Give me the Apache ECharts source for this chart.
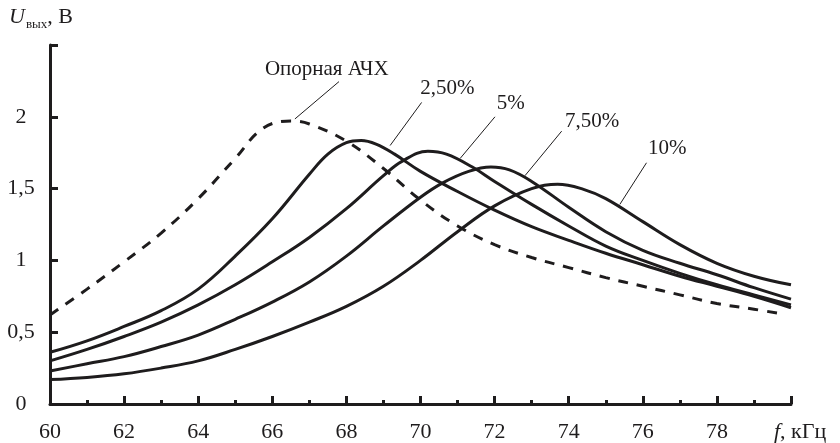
<!DOCTYPE html>
<html>
<head>
<meta charset="utf-8">
<script src="https://cdn.jsdelivr.net/npm/echarts@6/dist/echarts.min.js"></script>
<style>html,body{margin:0;padding:0;background:#fff}#c{width:840px;height:443px}</style>
</head>
<body>
<div id="c"></div>
<script>
// Data: [frequency kHz, U V]
var refCurve = [[60,0.62],[61,0.80],[62,0.99],[63,1.19],[64,1.43],[65,1.71],[65.75,1.92],[66.5,1.97],[67,1.95],[68,1.83],[69,1.64],[70,1.42],[71,1.24],[72,1.11],[73,1.02],[74,0.95],[75,0.88],[76,0.82],[77,0.76],[78,0.70],[79,0.66],[79.7,0.63]];
var curve250 = [[60,0.36],[61,0.44],[62,0.54],[63,0.65],[64,0.80],[65,1.03],[66,1.29],[67,1.60],[67.5,1.74],[68,1.82],[68.4,1.835],[68.8,1.81],[69.3,1.74],[70,1.62],[71,1.48],[72,1.35],[73,1.235],[74,1.14],[75,1.05],[76,0.97],[77,0.89],[78,0.82],[79,0.75],[80,0.67]];
var curve5 = [[60,0.30],[61,0.38],[62,0.47],[63,0.57],[64,0.69],[65,0.83],[66,0.99],[67,1.16],[68,1.36],[69,1.59],[69.5,1.69],[70.2,1.76],[70.7,1.74],[71.4,1.65],[72,1.55],[73,1.39],[74,1.24],[75,1.10],[76,1.00],[77,0.91],[78,0.83],[79,0.76],[80,0.69]];
var curve75 = [[60,0.23],[61,0.28],[62,0.33],[63,0.40],[64,0.48],[65,0.59],[66,0.71],[67,0.85],[68,1.03],[69,1.24],[70,1.44],[70.6,1.54],[71.3,1.62],[71.9,1.65],[72.4,1.63],[73,1.55],[74,1.37],[75,1.20],[76,1.07],[77,0.98],[78,0.90],[79,0.81],[80,0.73]];
var curve10 = [[60,0.17],[61,0.185],[62,0.21],[63,0.25],[64,0.30],[65,0.38],[66,0.47],[67,0.57],[68,0.68],[69,0.82],[70,1.00],[71,1.20],[72,1.38],[73,1.50],[73.7,1.53],[74.4,1.495],[75,1.43],[76,1.27],[77,1.11],[78,0.98],[79,0.89],[80,0.83]];
var curveNames = ['Опорная АЧХ','2,50%','5%','7,50%','10%'];
// Annotation anchors in data space: [textX, textY, lineFromX, lineFromY, lineToX, lineToY]
var annotations = [
  [65.80, 2.33, 66.61, 1.985, 67.80, 2.245],
  [69.99, 2.20, 69.18, 1.80, 70.03, 2.10],
  [72.06, 2.09, 71.07, 1.71, 72.01, 2.00],
  [73.90, 1.97, 72.82, 1.59, 73.81, 1.90],
  [76.14, 1.78, 75.38, 1.39, 76.10, 1.68]
];
var xTicks = [60,62,64,66,68,70,72,74,76,78];
var yTicks = [0,0.5,1,1.5,2];

var ink = '#1e1c1d';
var font = 'Liberation Serif';
var chart = echarts.init(document.getElementById('c'), null, {renderer:'canvas'});
function mk(data, dashed){
  return {type:'line', data:data, smooth:0.4, showSymbol:false, symbol:'none', silent:true,
    lineStyle:{color:ink, width:3, type: dashed ? [10,9] : 'solid', cap:'butt'}};
}
var option = {
  animation:false,
  grid:{left:50, right:49, top:45, bottom:32},
  xAxis:{type:'value', min:60, max:80, interval:2,
    axisLine:{lineStyle:{color:ink, width:3}},
    axisTick:{inside:true, length:8, lineStyle:{color:ink, width:3}},
    minorTick:{show:true, splitNumber:2, length:4, lineStyle:{color:ink, width:3}},
    splitLine:{show:false},
    axisLabel:{color:ink, fontFamily:font, fontSize:22, margin:17,
      formatter:function(v){ return xTicks.indexOf(v)>=0 ? String(v) : ''; }},
    name:'{i|f}, кГц', nameLocation:'end', nameGap:-17,
    nameTextStyle:{color:ink, fontFamily:font, fontSize:22, align:'left', verticalAlign:'top', padding:[17,0,0,0],
      rich:{i:{fontStyle:'italic', fontFamily:font, fontSize:22, color:ink}}}
  },
  yAxis:{type:'value', min:0, max:2.5, interval:0.5,
    axisLine:{lineStyle:{color:ink, width:3}},
    axisTick:{inside:true, length:8, lineStyle:{color:ink, width:3}},
    splitLine:{show:false},
    axisLabel:{color:ink, fontFamily:font, fontSize:22, margin:29, align:'center',
      formatter:function(v){ return yTicks.indexOf(v)>=0 ? String(v).replace('.',',') : ''; }},
    name:'{i|U}{s|вых}, В', nameLocation:'end', nameGap:14,
    nameTextStyle:{color:ink, fontFamily:font, fontSize:22, align:'center', padding:[0,18,0,0],
      rich:{i:{fontStyle:'italic', fontFamily:font, fontSize:22, color:ink},
            s:{fontFamily:font, fontSize:13, color:ink, verticalAlign:'bottom', padding:[14,0,0,1]}}}
  },
  series:[mk(refCurve,true), mk(curve250), mk(curve5), mk(curve75), mk(curve10)]
};
chart.setOption(option);
var g = [];
annotations.forEach(function(a, i){
  var t = chart.convertToPixel({gridIndex:0}, [a[0], a[1]]);
  var p1 = chart.convertToPixel({gridIndex:0}, [a[2], a[3]]);
  var p2 = chart.convertToPixel({gridIndex:0}, [a[4], a[5]]);
  g.push({type:'line', shape:{x1:p1[0], y1:p1[1], x2:p2[0], y2:p2[1]}, style:{stroke:ink, lineWidth:1}, silent:true});
  g.push({type:'text', x:t[0], y:t[1], style:{text:curveNames[i], fill:ink, font:'21px "Liberation Serif"', textAlign:'left', textVerticalAlign:'middle'}, silent:true});
});
chart.setOption({graphic:g});
</script>
</body>
</html>
